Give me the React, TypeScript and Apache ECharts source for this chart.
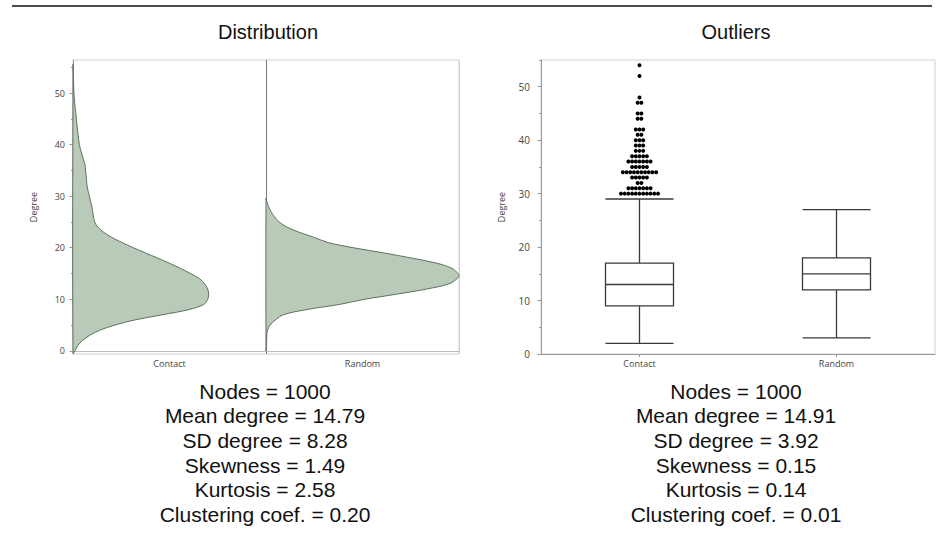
import React, { useEffect, useRef } from "react";
import * as echarts from "echarts";

// ---------- data ----------
const categories = ["Contact", "Random"];

// half-violin density profiles (relative density, Random peak = 1)
const contactDeg = [-0.5, 0, 1, 2, 3, 4, 5, 6, 7, 8, 9, 10, 11, 12, 13, 14, 15, 16, 17, 18, 19, 20, 21, 22, 23, 24, 25, 26, 27, 28, 29, 30, 31, 32, 33, 34, 35, 36, 37, 38, 39, 40, 42, 44, 46, 48, 50, 52, 54, 55.5];
const contactDens = [0, 0.01, 0.024, 0.048, 0.086, 0.138, 0.216, 0.32, 0.461, 0.599, 0.677, 0.698, 0.703, 0.698, 0.682, 0.656, 0.609, 0.557, 0.5, 0.438, 0.375, 0.313, 0.255, 0.201, 0.159, 0.129, 0.112, 0.106, 0.102, 0.098, 0.091, 0.085, 0.078, 0.073, 0.07, 0.068, 0.065, 0.063, 0.055, 0.047, 0.039, 0.033, 0.026, 0.02, 0.015, 0.009, 0.005, 0.003, 0.002, 0];

const randomDeg = [0, 0.5, 2, 3, 4, 5, 6, 7, 8, 9, 10, 11, 12, 13, 14, 14.6, 15, 16, 17, 18, 19, 20, 21, 22, 23, 24, 25, 26, 27, 28, 29, 29.6];
const randomDens = [0, 0.002, 0.003, 0.004, 0.008, 0.021, 0.049, 0.089, 0.208, 0.38, 0.51, 0.677, 0.833, 0.948, 0.99, 1.0, 0.995, 0.964, 0.885, 0.755, 0.609, 0.453, 0.323, 0.25, 0.172, 0.109, 0.068, 0.044, 0.026, 0.013, 0.004, 0];

// box plot: [min, Q1, median, Q3, max]
const boxStats = [
  [2, 9, 13, 17, 29],
  [3, 12, 15, 18, 27],
];

// Contact outliers: degree value and number of nodes with it
const outlierDegrees = [30, 31, 32, 33, 34, 35, 36, 37, 38, 39, 40, 41, 42, 44, 45, 47, 48, 52, 54];
const outlierCounts = [11, 7, 2, 5, 10, 5, 7, 5, 3, 3, 3, 2, 3, 2, 2, 2, 1, 1, 1];

const yTicks = [0, 10, 20, 30, 40, 50];
const yMinorTicks = [5, 15, 25, 35, 45, 55];

const statsContact = [
  "Nodes = 1000",
  "Mean degree = 14.79",
  "SD degree = 8.28",
  "Skewness = 1.49",
  "Kurtosis = 2.58",
  "Clustering coef. = 0.20",
];
const statsRandom = [
  "Nodes = 1000",
  "Mean degree = 14.91",
  "SD degree = 3.92",
  "Skewness = 0.15",
  "Kurtosis = 0.14",
  "Clustering coef. = 0.01",
];

// ---------- styles ----------
const plotFont = "'Open Sans', 'DejaVu Sans', sans-serif";
const textFont = "'Liberation Sans', Arial, Helvetica, sans-serif";
const labelColor = "#444";
const axisGray = "#9a9a9a";
const frameGray = "#d0d0d0";

function yAxisMain(grid: number, min: number, max: number, fontSize: number, margin: number) {
  return {
    gridIndex: grid,
    type: "value",
    min,
    max,
    position: "left",
    name: "Degree",
    nameLocation: "middle",
    nameGap: 35,
    nameTextStyle: { fontSize: 9, color: labelColor, fontFamily: plotFont },
    axisLine: { show: true, lineStyle: { color: axisGray, width: 1 } },
    axisTick: { show: true, length: 3.5, customValues: yTicks, lineStyle: { color: axisGray } },
    axisLabel: { customValues: yTicks, fontSize, color: labelColor, margin, fontFamily: plotFont },
    splitLine: { show: false },
  };
}
function yAxisMinor(grid: number, min: number, max: number) {
  return {
    gridIndex: grid,
    type: "value",
    min,
    max,
    position: "left",
    axisLine: { show: false },
    axisTick: { show: true, length: 2, customValues: yMinorTicks, lineStyle: { color: axisGray } },
    axisLabel: { show: false },
    splitLine: { show: false },
  };
}

export default function App() {
  const ref = useRef<HTMLDivElement>(null);

  useEffect(() => {
    if (!ref.current) return;
    const chart = echarts.init(ref.current, null, { renderer: "svg" });

    const option: any = {
      animation: false,
      backgroundColor: "#fff",
      grid: [
        { left: 73, top: 60, width: 386, height: 294, show: true, borderColor: frameGray, borderWidth: 1, backgroundColor: "transparent" },
        { left: 541, top: 60, width: 394, height: 294, show: true, borderColor: frameGray, borderWidth: 1, backgroundColor: "transparent" },
      ],
      xAxis: [
        {
          gridIndex: 0,
          type: "category",
          data: categories,
          position: "bottom",
          axisLine: { show: true, lineStyle: { color: "#bbb" } },
          axisTick: { show: false },
          axisLabel: { fontSize: 9, color: labelColor, margin: 5, fontFamily: plotFont },
          splitLine: { show: false },
        },
        {
          gridIndex: 0,
          type: "value",
          min: 0,
          max: 2,
          interval: 1,
          position: "top",
          axisLine: { show: false },
          axisTick: { show: false },
          axisLabel: { show: false },
          splitLine: { show: true, lineStyle: { color: [frameGray, "#7a7a7a", frameGray], width: 1 } },
        },
        {
          gridIndex: 1,
          type: "category",
          data: categories,
          position: "bottom",
          axisLine: { show: true, lineStyle: { color: axisGray } },
          axisTick: { show: true, alignWithLabel: true, length: 3, lineStyle: { color: axisGray } },
          axisLabel: { fontSize: 9, color: labelColor, margin: 5, fontFamily: plotFont },
          splitLine: { show: false },
        },
      ],
      yAxis: [
        yAxisMain(0, -0.6, 56.4, 9, 8),
        yAxisMinor(0, -0.6, 56.4),
        yAxisMain(1, 0, 55, 10, 11),
        yAxisMinor(1, 0, 55),
      ],
      series: [
        {
          type: "custom",
          xAxisIndex: 1,
          yAxisIndex: 0,
          data: [
            [0, 0],
            [1, 0],
          ],
          encode: { x: 0, y: 1 },
          renderItem: (params: any, api: any) => {
            const i = params.dataIndex;
            const degs = i === 0 ? contactDeg : randomDeg;
            const dens = i === 0 ? contactDens : randomDens;
            const pts = degs.map((d, k) => api.coord([i + dens[k], d]));
            return {
              type: "polygon",
              shape: { points: pts, smooth: 0.35 },
              style: { fill: "#b9cab9", stroke: "#5f705f", lineWidth: 1 },
            };
          },
          z: 3,
        },
        {
          type: "boxplot",
          xAxisIndex: 2,
          yAxisIndex: 2,
          data: boxStats,
          boxWidth: [68, 68],
          itemStyle: { color: "#fff", borderColor: "#3a3a3a", borderWidth: 1.3 },
        },
        {
          type: "custom",
          xAxisIndex: 2,
          yAxisIndex: 2,
          data: outlierDegrees.map((d, k) => [0, d, outlierCounts[k]]),
          encode: { x: 0, y: 1 },
          renderItem: (params: any, api: any) => {
            const c = api.coord([api.value(0), api.value(1)]);
            const n = api.value(2);
            const step = 3.7;
            const children = [];
            for (let j = 0; j < n; j++) {
              children.push({
                type: "circle",
                shape: { cx: c[0] + (j - (n - 1) / 2) * step, cy: c[1], r: 2 },
                style: { fill: "#000" },
              });
            }
            return { type: "group", children };
          },
          z: 4,
        },
      ],
      graphic: [
        { type: "line", shape: { x1: 12, y1: 6, x2: 932, y2: 6 }, style: { stroke: "#111", lineWidth: 1.5 } },
        {
          type: "text",
          x: 268,
          y: 32,
          style: { text: "Distribution", font: `20px ${textFont}`, fill: "#111", textAlign: "center", textVerticalAlign: "middle", align: "center", verticalAlign: "middle" },
        },
        {
          type: "text",
          x: 736,
          y: 32,
          style: { text: "Outliers", font: `20px ${textFont}`, fill: "#111", textAlign: "center", textVerticalAlign: "middle", align: "center", verticalAlign: "middle" },
        },
        {
          type: "text",
          x: 265,
          y: 379,
          style: { text: statsContact.join("\n"), font: `21px ${textFont}`, lineHeight: 24.6, fill: "#111", textAlign: "center", textVerticalAlign: "top", align: "center", verticalAlign: "top" },
        },
        {
          type: "text",
          x: 736,
          y: 379,
          style: { text: statsRandom.join("\n"), font: `21px ${textFont}`, lineHeight: 24.6, fill: "#111", textAlign: "center", textVerticalAlign: "top", align: "center", verticalAlign: "top" },
        },
      ],
    };

    chart.setOption(option);
    return () => chart.dispose();
  }, []);

  return (
    <div
      ref={ref}
      style={{ position: "fixed", left: 0, top: 0, width: 937, height: 551, background: "#fff" }}
    />
  );
}
